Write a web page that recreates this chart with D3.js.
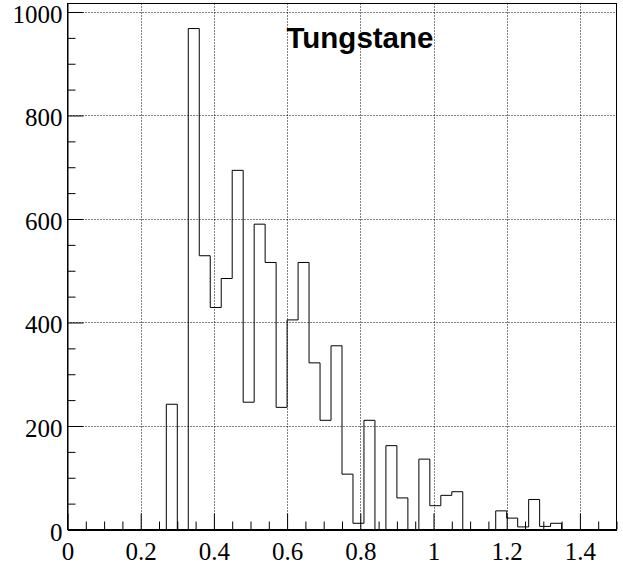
<!DOCTYPE html>
<html>
<head>
<meta charset="utf-8">
<script src="https://cdn.jsdelivr.net/npm/d3@7"></script>
<style>
  html, body { margin: 0; padding: 0; background: #fff; }
  svg { display: block; }
</style>
</head>
<body>
<svg id="chart" width="623" height="569"></svg>
<script>
// Histogram of Tungstane: 50 bins of width 0.03 from 0 to 1.5
const binLow = 0;
const binWidth = 0.03;
const counts = [
  0, 0, 0, 0, 0, 0, 0, 0, 0, 242,
  0, 968, 529, 429, 485, 694, 246, 590, 516, 236,
  405, 516, 322, 211, 355, 107, 12, 211, 0, 162,
  61, 0, 136, 46, 66, 73, 0, 0, 0, 36,
  22, 5, 58, 6, 12, 0, 0, 0, 0, 0
];
const xMajorTicks = [0, 0.2, 0.4, 0.6, 0.8, 1, 1.2, 1.4];
const xTickLabels = ["0", "0.2", "0.4", "0.6", "0.8", "1", "1.2", "1.4"];
const yMajorTicks = [0, 200, 400, 600, 800, 1000];
const yTickLabels = ["0", "200", "400", "600", "800", "1000"];
const title = "Tungstane";

const svg = d3.select("#chart");
const frameLeft = 67.5, frameRight = 616.5, frameTop = 3.5, frameBottom = 529.5;

const x = d3.scaleLinear().domain([0, 1.5]).range([frameLeft, frameRight]);
const yMax = d3.max(counts) * 1.05;
const y = d3.scaleLinear().domain([0, yMax]).range([frameBottom, frameTop]);

const xMinor = d3.range(0, 1.5001, 0.05).map(v => +v.toFixed(2))
  .filter(v => !xMajorTicks.some(m => Math.abs(m - v) < 1e-9));
const yMinor = d3.range(0, yMax, 50).filter(v => v % 200 !== 0);

// dotted grid at major ticks
const grid = svg.append("g").attr("stroke", "#000").attr("stroke-width", 1)
  .attr("stroke-dasharray", "1,2");
grid.selectAll("line.gx").data(xMajorTicks.filter(v => v > 0)).join("line")
  .attr("x1", d => Math.round(x(d)) + 0.5).attr("x2", d => Math.round(x(d)) + 0.5)
  .attr("y1", frameTop).attr("y2", frameBottom);
grid.selectAll("line.gy").data(yMajorTicks.filter(v => v > 0)).join("line")
  .attr("y1", d => Math.round(y(d)) + 0.5).attr("y2", d => Math.round(y(d)) + 0.5)
  .attr("x1", frameLeft).attr("x2", frameRight);

// histogram outline
const pts = [[x(binLow), y(0)]];
counts.forEach((c, i) => {
  const x0 = x(binLow + i * binWidth), x1 = x(binLow + (i + 1) * binWidth);
  pts.push([x0, y(c)], [x1, y(c)]);
});
pts.push([x(binLow + counts.length * binWidth), y(0)]);
svg.append("path")
  .attr("d", d3.line()(pts))
  .attr("fill", "none").attr("stroke", "#000").attr("stroke-width", 1);

// frame
svg.append("rect").attr("x", frameLeft).attr("y", frameTop)
  .attr("width", frameRight - frameLeft).attr("height", frameBottom - frameTop)
  .attr("fill", "none").attr("stroke", "#000").attr("stroke-width", 1);

const fontSerif = "'Liberation Serif', 'Times New Roman', serif";

// x axis: major ticks with labels, then minor ticks
const xAxis = svg.append("g").attr("transform", `translate(0,${frameBottom})`)
  .call(d3.axisBottom(x).tickValues(xMajorTicks)
    .tickFormat((d, i) => xTickLabels[i]).tickSizeInner(-16).tickSizeOuter(0).tickPadding(13));
xAxis.select(".domain").attr("stroke-width", 2);
xAxis.selectAll("text").attr("font-family", fontSerif).attr("font-size", 25).attr("fill", "#000");
svg.append("g").attr("transform", `translate(0,${frameBottom})`)
  .call(d3.axisBottom(x).tickValues(xMinor).tickFormat("").tickSizeInner(-8).tickSizeOuter(0))
  .select(".domain").remove();

// y axis
const yAxis = svg.append("g").attr("transform", `translate(${frameLeft},0)`)
  .call(d3.axisLeft(y).tickValues(yMajorTicks)
    .tickFormat((d, i) => yTickLabels[i]).tickSizeInner(-16).tickSizeOuter(0).tickPadding(5));
yAxis.selectAll("text").attr("font-family", fontSerif).attr("font-size", 25)
  .attr("fill", "#000").attr("dy", "0.42em");
svg.append("g").attr("transform", `translate(${frameLeft},0)`)
  .call(d3.axisLeft(y).tickValues(yMinor).tickFormat("").tickSizeInner(-8).tickSizeOuter(0))
  .select(".domain").remove();

// title
svg.append("text").attr("x", 286.5).attr("y", 48)
  .attr("font-family", "'Liberation Sans', Arial, sans-serif")
  .attr("font-weight", "bold").attr("font-size", 29.5).attr("fill", "#000")
  .text(title);
</script>
</body>
</html>
